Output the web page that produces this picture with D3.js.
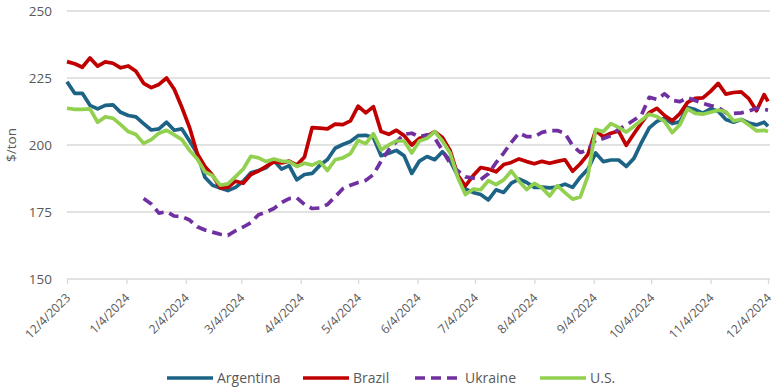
<!DOCTYPE html>
<html>
<head>
<meta charset="utf-8">
<title>Export prices</title>
<script src="https://cdn.jsdelivr.net/npm/d3@7"></script>
<style>
body { margin: 0; background: #fff; }
svg text { font-family: "Open Sans", Arial, sans-serif; fill: #595959; }
</style>
</head>
<body>
<svg id="chart" width="776" height="391"></svg>
<script>
// dates: every 4 days from 12/4/2023, plus the last day
var startDate = new Date(2023, 11, 4);
var endDate = new Date(2024, 11, 4);
var dates = d3.timeDay.range(startDate, endDate, 4);
dates.push(endDate);

var tickLabels = ["12/4/2023", "1/4/2024", "2/4/2024", "3/4/2024", "4/4/2024", "5/4/2024",
  "6/4/2024", "7/4/2024", "8/4/2024", "9/4/2024", "10/4/2024", "11/4/2024", "12/4/2024"];
var yTicks = [150, 175, 200, 225, 250];

var argentina = [223.6, 219.3, 219.3, 214.8, 213.5, 214.8, 215, 212.2, 211, 210.5,
  208, 205.6, 206, 208.5, 205.5, 206, 201.5, 196.8, 188, 185,
  184, 183, 184.2, 186.5, 189.6, 190.5, 191.5, 194.2, 191, 192.3,
  187, 189, 189.4, 192.4, 194.6, 198.8, 200.2, 201.3, 203.5, 203.6,
  202.7, 196, 196.9, 198, 196, 189.4, 194, 195.7, 194.5, 197.5,
  194.2, 188.5, 183.6, 182.3, 181.5, 179.5, 183.3, 182.3, 185.8, 187.3,
  186, 184.2, 184.3, 184, 184.3, 185.4, 184.2, 188, 191, 197,
  193.8, 194.4, 194.4, 192, 195, 201, 206.4, 208.8, 210, 208,
  208.7, 214, 213.2, 211.9, 213.5, 212.6, 209.5, 208.5, 209.5, 208.2,
  207.5, 208.5, 207];

var brazil = [231.1, 230.3, 229, 232.5, 229.4, 231, 230.5, 228.8, 229.5, 227.5,
  223, 221.4, 222.6, 225, 220.8, 214, 206.5, 196.8, 192, 188.7,
  184, 184.2, 186.5, 185.7, 189, 190.3, 192, 193.7, 193.3, 194,
  192.5, 195.5, 206.5, 206.3, 206, 207.8, 207.6, 209, 214.5, 212,
  214.3, 205, 204, 205.5, 203.5, 200, 202.5, 203.2, 205, 202.8,
  198, 188.8, 184.7, 188.5, 191.6, 191, 190, 192.7, 193.5, 194.8,
  193.8, 193, 193.9, 193.2, 193.9, 194.5, 190.2, 193, 196.5, 205.4,
  203.1, 204.4, 205.2, 199.9, 204.2, 208.3, 212.1, 213.7, 211, 209,
  211.7, 215.9, 217.4, 217.6, 220, 223, 219, 219.6, 219.8, 217.3,
  212.8, 218.8, 216.3];

var ukraine = [null, null, null, null, null, null, null, null, null, null,
  180, 178, 174.6, 175.1, 173.5, 173.3, 172, 169.5, 168.3, 167.5,
  166.7, 166.3, 168, 169.4, 171, 174, 175, 176.3, 178.5, 180,
  180.3, 177.8, 176.3, 176.5, 177.8, 180.7, 183.7, 185, 186, 186.8,
  189, 194, 198.2, 201.2, 204, 204.4, 203.1, 203.8, 202.6, 198,
  193.2, 190.4, 188.1, 187.7, 187.1, 189.3, 193.4, 197, 201, 204.5,
  203.1, 203.1, 204.7, 205.4, 205.4, 204.3, 199.8, 197.2, 198.2, 201.8,
  202.4, 203.5, 205.9, 207.4, 209.3, 211.3, 217.8, 217, 219.1, 216.7,
  216.2, 217.6, 216.6, 215.5, 214.7, 214, 212, 211.8, 212, 212.7,
  213.7, 213.3, 213];

var us = [213.7, 213.3, 213.3, 213.5, 208.5, 210.5, 210, 207.6, 205, 203.9,
  200.6, 202, 204.4, 205.5, 203.8, 202, 198, 194.8, 190, 188.6,
  185, 185.5, 188.2, 191, 195.8, 195.2, 193.8, 194.8, 194, 193.8,
  192, 193.2, 192.5, 193.8, 190.5, 194.5, 195.2, 196.8, 201.7, 200.5,
  204.2, 198.2, 200, 201.5, 201.5, 197, 201.5, 202.5, 205, 201.5,
  197, 188, 181.5, 183.5, 183.3, 186.7, 185.2, 187, 190.3, 186.5,
  183.4, 185.7, 184, 181, 184.8, 182.2, 179.8, 180.6, 188.5, 205.8,
  205, 208, 206.6, 204.8, 207, 209.3, 211.5, 210.6, 208.8, 204.6,
  207.6, 213.5, 211.8, 211.5, 212.2, 213, 212.4, 209, 209.5, 207.5,
  205.3, 205.5, 205];

var seriesNames = ["Argentina", "Brazil", "Ukraine", "U.S."];
var seriesValues = [argentina, brazil, ukraine, us];
var seriesColors = ["#1d6385", "#c00000", "#7030a0", "#92d050"];
var seriesDash = [null, null, "10,6", null];

var svg = d3.select("#chart");
var parseDate = d3.timeParse("%m/%d/%Y");

var x = d3.scaleTime().domain([startDate, endDate]).range([67, 768]);
var y = d3.scaleLinear().domain([150, 250]).range([279, 11]);

// gridlines
svg.append("g").selectAll("line")
  .data(yTicks)
  .enter().append("line")
  .attr("x1", 67).attr("x2", 770)
  .attr("y1", function (d) { return y(d); })
  .attr("y2", function (d) { return y(d); })
  .style("stroke", "#d9d9d9")
  .style("stroke-width", 1.3);

// y axis labels
svg.append("g").selectAll("text")
  .data(yTicks)
  .enter().append("text")
  .attr("x", 52)
  .attr("y", function (d) { return y(d); })
  .attr("dy", "0.35em")
  .style("text-anchor", "end")
  .style("font-size", "13.5px")
  .text(function (d) { return d; });

svg.append("text")
  .attr("transform", "translate(16,145) rotate(-90)")
  .style("text-anchor", "middle")
  .style("font-size", "13.5px")
  .text("$/ton");

// x axis
var xAxis = d3.axisBottom(x)
  .tickValues(tickLabels.map(parseDate))
  .tickSize(5)
  .tickFormat(function (d, i) { return tickLabels[i]; });

var gx = svg.append("g")
  .attr("transform", "translate(0," + y(150) + ")")
  .call(xAxis);
gx.select(".domain").remove();
gx.selectAll("line").style("stroke", "#d9d9d9").style("stroke-width", 1.3);
gx.selectAll("text")
  .style("text-anchor", "end")
  .style("font-size", "12.2px")
  .style("fill", "#595959")
  .attr("dx", 0)
  .attr("dy", 0)
  .attr("transform", "translate(-2,14) rotate(-45)");

// lines
var line = d3.line()
  .defined(function (d) { return d != null; })
  .x(function (d, i) { return x(dates[i]); })
  .y(function (d) { return y(d); });

svg.append("g").selectAll("path")
  .data(seriesValues)
  .enter().append("path")
  .attr("d", function (d) { return line(d); })
  .style("fill", "none")
  .style("stroke", function (d, i) { return seriesColors[i]; })
  .style("stroke-width", 3.7)
  .style("stroke-linejoin", "round")
  .style("stroke-dasharray", function (d, i) { return seriesDash[i]; });

// legend
var legendX = [167, 303, 415, 540];
var legend = svg.append("g").selectAll("g")
  .data(seriesNames)
  .enter().append("g")
  .attr("transform", function (d, i) { return "translate(" + legendX[i] + ",378)"; });
legend.append("line")
  .attr("x1", 0).attr("x2", 46)
  .style("stroke", function (d, i) { return seriesColors[i]; })
  .style("stroke-width", 3.7)
  .style("stroke-dasharray", function (d, i) { return seriesDash[i]; });
legend.append("text")
  .attr("x", 50)
  .attr("dy", "0.35em")
  .style("font-size", "14px")
  .text(function (d) { return d; });
</script>
</body>
</html>
